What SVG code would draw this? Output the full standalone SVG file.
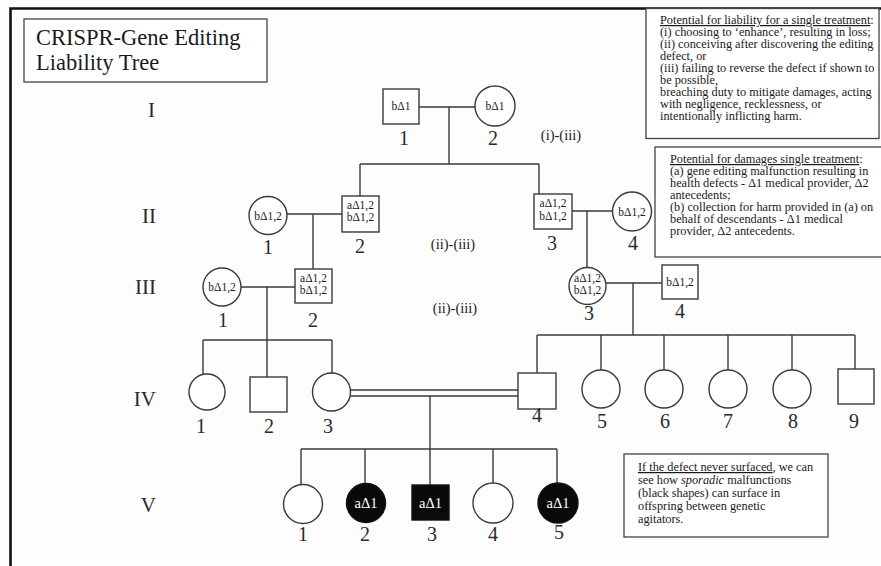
<svg xmlns="http://www.w3.org/2000/svg" width="881" height="566" viewBox="0 0 881 566">
<style>
.ln{stroke:#3a3a3a;stroke-width:1.4;fill:none}
.sh{stroke:#3a3a3a;stroke-width:1.4;fill:#fff}
.fl{stroke:#111;stroke-width:1.4;fill:#0a0a0a}
.box{stroke:#444;stroke-width:1.3;fill:#fff}
text{font-family:"Liberation Serif","Times New Roman",serif;fill:#1a1a1a}
.t{font-size:11.5px;text-anchor:middle}
.tw{font-size:14.5px;text-anchor:middle;fill:#fff}
.num{font-size:20px;text-anchor:middle;fill:#2a2a2a}
.gen{font-size:21px;text-anchor:end;fill:#2a2a2a}
.rn{font-size:14.5px;text-anchor:middle}
.note{font-size:12.3px}
.u{text-decoration:underline}
</style>
<rect width="881" height="566" fill="#fdfdfd"/>
<path d="M10.5,566 V8.5 H881" stroke="#111" stroke-width="2.6" fill="none"/>

<g id="title">
<rect class="box" x="24" y="19" width="243" height="63"/>
<text x="36" y="45" font-size="22.5">CRISPR-Gene Editing</text>
<text x="36" y="70" font-size="22.5">Liability Tree</text>
</g>

<g id="generation-labels">
<text class="gen" x="155" y="117">I</text>
<text class="gen" x="156" y="223">II</text>
<text class="gen" x="156" y="294">III</text>
<text class="gen" x="156" y="406">IV</text>
<text class="gen" x="156" y="512">V</text>
</g>

<g id="connectors">
<path class="ln" d="M419,107 H475 M449,107 V164 M360,164 H539 M360,164 V196 M539,164 V194"/>
<path class="ln" d="M287,214 H342 M313,214 V269"/>
<path class="ln" d="M572,211 H612 M587,211 V267"/>
<path class="ln" d="M241,287 H295 M267,287 V340 M203,340 H332 M203,340 V375 M267,340 V377 M332,340 V373"/>
<path class="ln" d="M606,283 H662 M633,283 V335 M537,335 H855 M537,335 V373 M601,335 V370 M664,335 V370 M728,335 V370 M792,335 V370 M855,335 V369"/>
<path class="ln" d="M350,390 H518 M350,396 H518 M430,396 V449 M301,449 H557 M301,449 V485 M365,449 V484 M430,449 V485 M493,449 V483 M557,449 V483"/>
</g>

<g id="I-1"><rect class="sh" x="383" y="89" width="36" height="35"/><text class="t" x="401" y="110">bΔ1</text><text class="num" x="404" y="145">1</text></g>
<g id="I-2"><circle class="sh" cx="495" cy="106" r="20"/><text class="t" x="495" y="110">bΔ1</text><text class="num" x="493" y="145">2</text></g>
<text class="rn" x="561" y="140">(i)-(iii)</text>

<g id="II-1"><circle class="sh" cx="268" cy="215.5" r="19"/><text class="t" x="268" y="219.5">bΔ1,2</text><text class="num" x="268" y="254">1</text></g>
<g id="II-2"><rect class="sh" x="342" y="196" width="37" height="36"/><text class="t" x="360.5" y="209">aΔ1,2</text><text class="t" x="360.5" y="221">bΔ1,2</text><text class="num" x="360" y="253">2</text></g>
<g id="II-3"><rect class="sh" x="534" y="194" width="38" height="35"/><text class="t" x="553" y="207">aΔ1,2</text><text class="t" x="553" y="219.5">bΔ1,2</text><text class="num" x="552" y="250">3</text></g>
<g id="II-4"><circle class="sh" cx="632" cy="211.5" r="19.5"/><text class="t" x="632" y="215.5">bΔ1,2</text><text class="num" x="633" y="250">4</text></g>
<text class="rn" x="453" y="249">(ii)-(iii)</text>
<text class="rn" x="455" y="313">(ii)-(iii)</text>

<g id="III-1"><circle class="sh" cx="222" cy="287" r="19"/><text class="t" x="222" y="291">bΔ1,2</text><text class="num" x="223" y="327">1</text></g>
<g id="III-2"><rect class="sh" x="295" y="269" width="37" height="34"/><text class="t" x="313.5" y="282">aΔ1,2</text><text class="t" x="313.5" y="294">bΔ1,2</text><text class="num" x="313" y="327">2</text></g>
<g id="III-3"><circle class="sh" cx="587.5" cy="286" r="18.5"/><text class="t" x="587.5" y="282">aΔ1,2</text><text class="t" x="587.5" y="294">bΔ1,2</text><text class="num" x="589" y="320">3</text></g>
<g id="III-4"><rect class="sh" x="662" y="265" width="36" height="34"/><text class="t" x="680" y="286">bΔ1,2</text><text class="num" x="680" y="318">4</text></g>

<g id="IV-1"><circle class="sh" cx="207" cy="392" r="18"/><text class="num" x="201" y="433">1</text></g>
<g id="IV-2"><rect class="sh" x="250" y="377" width="37" height="35"/><text class="num" x="269" y="433">2</text></g>
<g id="IV-3"><circle class="sh" cx="331.5" cy="392" r="19"/><text class="num" x="328" y="433">3</text></g>
<g id="IV-4"><rect class="sh" x="518" y="373" width="38" height="36"/><text class="num" x="537" y="422">4</text></g>
<g id="IV-5"><circle class="sh" cx="601" cy="389" r="19"/><text class="num" x="602" y="428">5</text></g>
<g id="IV-6"><circle class="sh" cx="664" cy="389" r="19"/><text class="num" x="665" y="428">6</text></g>
<g id="IV-7"><circle class="sh" cx="728" cy="389" r="19"/><text class="num" x="728" y="428">7</text></g>
<g id="IV-8"><circle class="sh" cx="792" cy="389" r="19"/><text class="num" x="793" y="428">8</text></g>
<g id="IV-9"><rect class="sh" x="838" y="369" width="36" height="35"/><text class="num" x="854" y="428">9</text></g>

<g id="V-1"><circle class="sh" cx="303" cy="504" r="19.5"/><text class="num" x="303" y="541">1</text></g>
<g id="V-2"><circle class="fl" cx="366" cy="503" r="19.5"/><text class="tw" x="366" y="508">aΔ1</text><text class="num" x="365" y="541">2</text></g>
<g id="V-3"><rect class="fl" x="412" y="485" width="37" height="35"/><text class="tw" x="430.5" y="508">aΔ1</text><text class="num" x="432" y="541">3</text></g>
<g id="V-4"><circle class="sh" cx="493" cy="503" r="20"/><text class="num" x="493" y="541">4</text></g>
<g id="V-5"><circle class="fl" cx="558" cy="503" r="20"/><text class="tw" x="558" y="508">aΔ1</text><text class="num" x="559" y="539">5</text></g>

<g id="note-liability">
<rect class="box" x="646" y="8.5" width="233" height="130"/>
<text class="note" x="660" y="24"><tspan class="u">Potential for liability for a single treatment</tspan>:</text>
<text class="note" x="660" y="36">(i) choosing to ‘enhance’, resulting in loss;</text>
<text class="note" x="660" y="48">(ii) conceiving after discovering the editing</text>
<text class="note" x="660" y="60">defect, or</text>
<text class="note" x="660" y="72">(iii) failing to reverse the defect if shown to</text>
<text class="note" x="660" y="84">be possible,</text>
<text class="note" x="660" y="96">breaching duty to mitigate damages, acting</text>
<text class="note" x="660" y="108">with negligence, recklessness, or</text>
<text class="note" x="660" y="120">intentionally inflicting harm.</text>
</g>

<g id="note-damages">
<rect class="box" x="655" y="147" width="230" height="110"/>
<text class="note" x="670" y="163"><tspan class="u">Potential for damages single treatment</tspan>:</text>
<text class="note" x="670" y="175">(a)  gene editing malfunction resulting in</text>
<text class="note" x="670" y="187">health defects - Δ1 medical provider, Δ2</text>
<text class="note" x="670" y="199">antecedents;</text>
<text class="note" x="670" y="211">(b) collection for harm provided in (a) on</text>
<text class="note" x="670" y="223">behalf of descendants - Δ1 medical</text>
<text class="note" x="670" y="235">provider, Δ2 antecedents.</text>
</g>

<g id="note-sporadic">
<rect class="box" x="624" y="454" width="204" height="83"/>
<text class="note" x="638" y="471"><tspan class="u">If the defect never surfaced</tspan>, we can</text>
<text class="note" x="638" y="484">see how <tspan font-style="italic">sporadic</tspan> malfunctions</text>
<text class="note" x="638" y="497">(black shapes) can surface in</text>
<text class="note" x="638" y="510">offspring between genetic</text>
<text class="note" x="638" y="523">agitators.</text>
</g>
</svg>
